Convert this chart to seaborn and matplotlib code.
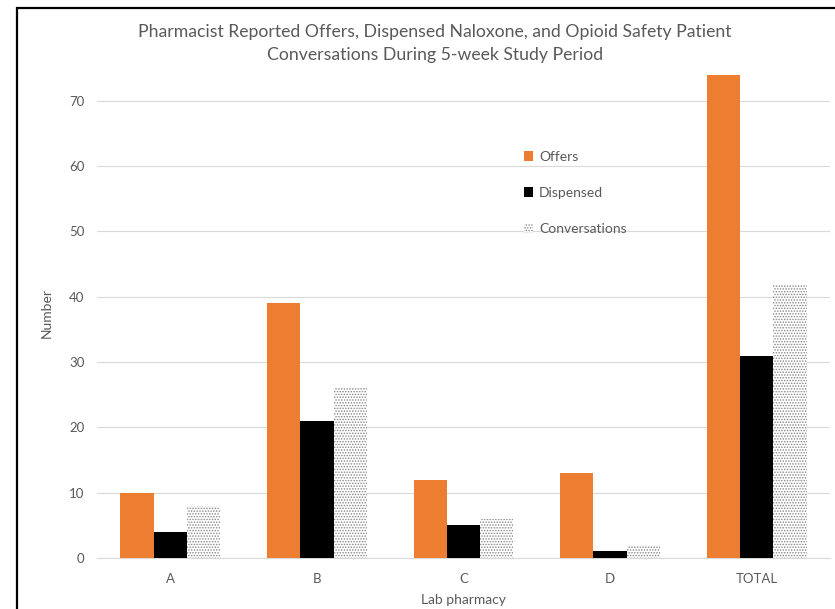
import matplotlib
matplotlib.use("Agg")
import matplotlib.pyplot as plt
from matplotlib.patches import Rectangle
import seaborn as sns
import pandas as pd

# Per-pharmacy counts over the 5-week study period
sites = ["A", "B", "C", "D", "TOTAL"]
offers = [10, 39, 12, 13, 74]
dispensed = [4, 21, 5, 1, 31]
conversations = [8, 26, 6, 2, 42]
measures = ["Offers", "Dispensed", "Conversations"]
yticks = [0, 10, 20, 30, 40, 50, 60, 70]

df = pd.DataFrame({
    "site": sites * 3,
    "measure": [m for m in measures for _ in sites],
    "count": offers + dispensed + conversations,
})

sns.set_theme(style="white")
plt.rcParams["font.family"] = ["Lato", "DejaVu Sans"]
plt.rcParams["hatch.linewidth"] = 0.7
text_col = "#595959"
grid_col = "#D9D9D9"
dot_col = "#858585"

fig = plt.figure(figsize=(8.35, 6.09), dpi=100)
ax = fig.add_axes([0.1162, 0.0837, 0.8778, 0.8045])

palette = {"Offers": "#ED7D31", "Dispensed": "#000000", "Conversations": "#FFFFFF"}
sns.barplot(data=df, x="site", y="count", hue="measure", order=sites,
            hue_order=measures, palette=palette, width=0.68, saturation=1,
            linewidth=0, ax=ax, zorder=3, legend=False)

# dotted fill for the conversations series
def dotted(patch):
    patch.set_facecolor("#FFFFFF")
    patch.set_edgecolor(dot_col)
    patch.set_hatch("......")
    patch.set_linewidth(0)

for bar in ax.containers[2]:
    dotted(bar)

ax.set_xlim(-0.5, 4.5)
ax.set_ylim(0, 75)
ax.set_yticks(yticks)
ax.yaxis.grid(True, color=grid_col, linewidth=0.8, zorder=0)
ax.set_axisbelow(True)
for side in ["top", "right", "left"]:
    ax.spines[side].set_visible(False)
ax.spines["bottom"].set_color(grid_col)
ax.spines["bottom"].set_linewidth(0.8)
ax.tick_params(axis="both", length=0, labelsize=9.5, colors=text_col, pad=9)
ax.tick_params(axis="x", pad=11)

ax.set_xlabel("Lab pharmacy", fontsize=10, color=text_col, labelpad=6)
ax.set_ylabel("Number", fontsize=10, color=text_col, labelpad=12)

fig.text(0.521, 0.928,
         "Pharmacist Reported Offers, Dispensed Naloxone, and Opioid Safety Patient\n"
         "Conversations During 5-week Study Period",
         ha="center", va="center", fontsize=12.7, color=text_col, linespacing=1.55)

handles = [Rectangle((0, 0), 1, 1, facecolor="#ED7D31", linewidth=0),
           Rectangle((0, 0), 1, 1, facecolor="#000000", linewidth=0),
           Rectangle((0, 0), 1, 1)]
dotted(handles[2])
leg = ax.legend(handles, measures, loc="upper left", bbox_to_anchor=(0.565, 0.857),
                frameon=False, fontsize=10, labelspacing=1.75, handlelength=0.7,
                handleheight=0.7, handletextpad=0.4)
for t in leg.get_texts():
    t.set_color(text_col)

# outer frame
top = 1 - 8 / 609
fig.patches.append(Rectangle((17 / 835, -0.1), 1.2, top + 0.1,
                             transform=fig.transFigure, fill=False,
                             edgecolor="black", linewidth=1.6, clip_on=False))

fig.savefig("out.png", dpi=100, facecolor="white")
